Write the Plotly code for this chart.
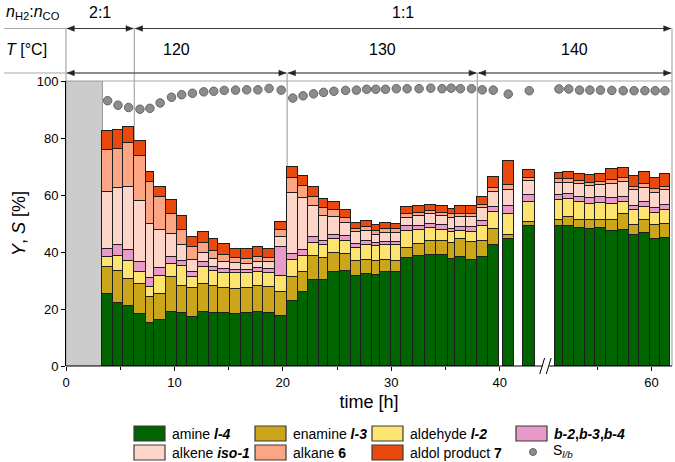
import plotly.graph_objects as go

FONT = "Liberation Sans, Arial, sans-serif"

# ---------------- data ----------------
# sampling interval of each bar [h] (real time)
t_start = [3.36, 4.32, 5.27, 6.28, 7.36, 8.12, 9.25, 10.21, 11.13, 12.20, 13.21, 14.04, 15.15, 16.13, 17.21, 18.19, 19.27,
           20.43, 21.41, 22.33, 23.34, 24.17, 25.25, 26.33, 27.25, 28.22, 28.93, 30.01, 30.93, 32.00, 33.14, 34.15, 35.22, 35.84, 36.92,
           37.89, 38.90, 40.29, 42.19,
           51.10, 51.85, 52.90, 53.85, 54.80, 55.80, 56.90, 57.90, 58.90, 59.90, 60.80]
t_end = [4.32, 5.27, 6.28, 7.36, 8.12, 9.25, 10.21, 11.13, 12.20, 13.21, 14.04, 15.15, 16.13, 17.21, 18.19, 19.27, 20.43,
         21.41, 22.33, 23.34, 24.17, 25.25, 26.33, 27.25, 28.22, 28.93, 30.01, 30.93, 32.00, 33.14, 34.15, 35.22, 35.84, 36.92, 37.89,
         38.90, 39.92, 41.30, 43.27,
         51.85, 52.90, 53.85, 54.80, 55.80, 56.90, 57.90, 58.90, 59.90, 60.80, 61.70]

amine_l4 = [25.4, 22.1, 21.1, 18.2, 15.0, 16.2, 18.9, 18.5, 17.1, 18.9, 18.5, 18.5, 18.3, 18.5, 18.9, 18.5, 17.6,
            22.8, 25.8, 30.3, 30.3, 32.9, 33.2, 31.5, 32.3, 31.8, 32.9, 32.9, 37.8, 38.5, 39.1, 38.8, 37.6, 38.3, 37.3,
            38.1, 42.4, 44.6, 49.3,
            49.3, 49.3, 48.5, 47.9, 48.5, 47.3, 47.7, 45.8, 46.5, 44.6, 45.0]
enamine_l3 = [9.2, 11.1, 9.4, 10.7, 9.2, 9.0, 12.2, 9.7, 10.2, 9.7, 9.4, 8.8, 8.7, 8.7, 9.2, 9.2, 8.5,
              8.3, 7.1, 8.2, 7.6, 6.8, 6.2, 5.2, 5.0, 4.9, 4.4, 3.8, 3.6, 4.2, 4.9, 5.2, 5.4, 6.1, 6.1,
              5.9, 5.5, 1.2, 1.2,
              2.1, 3.0, 2.9, 3.5, 2.7, 4.1, 5.5, 3.8, 4.7, 4.8, 5.0]
aldehyde_l2 = [3.7, 5.3, 6.5, 4.1, 3.6, 6.3, 4.8, 6.8, 3.9, 6.1, 5.4, 5.3, 5.6, 5.4, 4.8, 4.9, 5.6,
               6.0, 5.8, 4.7, 4.4, 4.7, 4.6, 4.7, 5.1, 5.3, 5.0, 5.6, 5.9, 5.0, 4.5, 3.7, 4.1, 2.9, 3.7,
               5.1, 6.1, 7.7, 7.2,
               6.8, 6.2, 6.1, 5.6, 6.1, 5.6, 4.4, 5.0, 4.6, 4.4, 4.9]
branched_b = [2.8, 3.9, 3.8, 3.5, 3.0, 2.8, 2.4, 1.7, 1.8, 1.7, 1.4, 1.4, 1.1, 1.0, 1.4, 1.6, 10.1,
              2.3, 2.1, 1.9, 1.5, 1.6, 1.5, 1.4, 1.4, 1.2, 1.1, 1.1, 1.8, 1.4, 1.5, 1.6, 1.1, 1.4, 1.6,
              1.7, 1.8, 2.8, 2.3,
              1.8, 1.7, 1.9, 2.0, 2.1, 2.0, 1.8, 1.5, 1.7, 1.7, 1.7]
alkene_iso1 = [20.1, 20.2, 22.0, 21.4, 19.0, 13.5, 7.9, 5.7, 4.3, 3.3, 2.9, 2.6, 2.3, 2.2, 2.3, 2.2, 3.3,
               21.4, 18.0, 11.0, 8.8, 6.2, 4.7, 4.1, 3.5, 2.9, 3.3, 3.3, 2.9, 3.5, 3.2, 3.3, 3.8, 3.6, 3.5,
               4.5, 5.4, 5.4, 5.0,
               4.3, 4.1, 4.3, 4.1, 4.1, 5.0, 5.2, 5.6, 5.1, 5.3, 5.0]
alkane_6 = [14.7, 13.7, 15.3, 15.9, 14.9, 11.5, 7.1, 5.4, 4.4, 3.3, 2.8, 2.4, 1.9, 1.9, 1.8, 1.6, 2.6,
            5.2, 4.3, 3.3, 2.7, 2.4, 1.9, 1.2, 1.4, 1.1, 1.2, 1.2, 1.2, 1.2, 1.3, 1.2, 1.2, 1.2, 1.3,
            1.2, 1.4, 1.8, 1.1,
            1.2, 1.4, 1.2, 1.2, 1.2, 1.1, 1.2, 1.2, 1.1, 1.4, 1.3]
aldol_7 = [6.6, 6.4, 5.6, 5.2, 3.5, 3.5, 4.9, 4.7, 3.6, 3.9, 4.0, 3.7, 3.3, 3.3, 3.3, 3.2, 2.9,
           3.8, 3.6, 3.5, 3.4, 3.1, 2.8, 2.1, 2.2, 2.1, 2.3, 2.1, 2.6, 2.2, 2.1, 2.3, 2.0, 2.5, 2.5,
           2.9, 3.7, 8.4, 2.7,
           2.3, 2.5, 2.6, 2.7, 2.6, 3.9, 3.8, 3.8, 4.4, 3.9, 4.6]
S_lb = [93.1, 91.5, 90.7, 90.1, 90.4, 92.3, 94.3, 95.2, 95.7, 96.2, 96.4, 96.7, 96.8, 96.9, 96.9, 97.4, 96.8,
        94.0, 94.8, 95.5, 96.0, 96.4, 96.7, 96.8, 97.1, 97.1, 97.1, 97.3, 97.3, 97.3, 97.5, 97.3, 97.5, 97.3, 97.3,
        96.9, 96.8, 95.4, 96.6,
        97.2, 97.2, 96.8, 96.8, 96.8, 96.7, 96.6, 96.6, 96.6, 96.6, 96.6]

series_values = [amine_l4, enamine_l3, aldehyde_l2, branched_b, alkene_iso1, alkane_6, aldol_7]
series_names = ["amine <b><i>l-4</i></b>", "enamine <b><i>l-3</i></b>", "aldehyde <b><i>l-2</i></b>",
                "<b><i>b-2</i>,<i>b-3</i>,<i>b-4</i></b>", "alkene <b><i>iso-1</i></b>", "alkane <b>6</b>",
                "aldol product <b>7</b>"]
dot_name = "S<sub><i>l/b</i></sub>"
colors = ["#006400", "#cba51a", "#fde470", "#e89bcb", "#fed6c9", "#fba585", "#e9490d"]

# process conditions
ratio_bounds = [0.0, 6.3, 61.9]
ratio_labels = ["2:1", "1:1"]
temp_bounds = [0.0, 20.4, 37.95, 61.9]
temp_labels = ["120", "130", "140"]

x_major = [0, 10, 20, 30, 40, 60]
x_minor = [5, 15, 25, 35, 55]
y_ticks = [0, 20, 40, 60, 80, 100]

# ---------------- axis break ----------------
BREAK_AT = 44.3     # real time where the axis is cut
BREAK_GAP = 6.0     # hours removed by the cut


def disp(t):
    return t if t <= BREAK_AT else t - BREAK_GAP


XMAX = disp(61.9)
centers = [disp((a + b) / 2) for a, b in zip(t_start, t_end)]
widths = [b - a for a, b in zip(t_start, t_end)]

# pixel helpers for decorations outside the plotting area
L, R, T, B = 66, 3, 81, 96
W, H = 675, 462
PW, PH = W - L - R, H - T - B


def pxx(px):
    return (px - L) / PW


def pxy(py):
    return (H - B - py) / PH


fig = go.Figure()
for vals, name, col in zip(series_values, series_names, colors):
    fig.add_trace(go.Bar(x=centers, y=vals, width=widths, name=name, showlegend=False,
                         marker=dict(color=col, line=dict(color="#1e1e1e", width=1.3))))
fig.add_trace(go.Scatter(x=centers, y=S_lb, mode="markers", name="S_l/b", showlegend=False,
                         marker=dict(size=8.5, color="#8c8c8c", line=dict(color="#666666", width=1))))

shapes = []
GREY = "#a8a8a8"
ARROW = "#222222"
# grey start-up region
shapes.append(dict(type="rect", xref="x", yref="y", x0=0, x1=disp(t_start[0]), y0=0, y1=100,
                   fillcolor="#cccccc", line=dict(color="#9a9a9a", width=1), layer="below"))
# frame top & right
shapes.append(dict(type="line", xref="paper", yref="paper", x0=0, x1=1, y0=1, y1=1,
                   line=dict(color=GREY, width=1.2)))
y_row1 = pxy(28.5)
y_row2 = pxy(73)
shapes.append(dict(type="line", xref="paper", yref="paper", x0=1, x1=1, y0=0, y1=y_row1,
                   line=dict(color=GREY, width=1.2)))
shapes.append(dict(type="line", xref="paper", yref="paper", x0=0, x1=0, y0=1, y1=y_row1,
                   line=dict(color=GREY, width=1.2)))
# header horizontal lines
for yy in (y_row1, y_row2):
    shapes.append(dict(type="line", xref="paper", yref="paper", x0=pxx(4), x1=1, y0=yy, y1=yy,
                       line=dict(color=GREY, width=1.2)))
# condition change lines
shapes.append(dict(type="line", xref="x", yref="paper", x0=disp(ratio_bounds[1]), x1=disp(ratio_bounds[1]),
                   y0=0, y1=y_row1, line=dict(color=GREY, width=1.2), layer="below"))
for tb in temp_bounds[1:-1]:
    shapes.append(dict(type="line", xref="x", yref="paper", x0=disp(tb), x1=disp(tb),
                       y0=0, y1=y_row2, line=dict(color=GREY, width=1.2), layer="below"))
# x axis line with break
shapes.append(dict(type="line", xref="x", yref="paper", x0=0, x1=BREAK_AT - 0.32, y0=0, y1=0,
                   line=dict(color="black", width=1)))
shapes.append(dict(type="line", xref="x", yref="paper", x0=BREAK_AT + 0.28, x1=XMAX, y0=0, y1=0,
                   line=dict(color="black", width=1)))
for dx in (-0.6, -0.0):
    shapes.append(dict(type="line", xref="x", yref="paper", x0=BREAK_AT + dx, x1=BREAK_AT + dx + 0.45,
                       y0=pxy(374), y1=pxy(358), line=dict(color="black", width=1)))

annotations = []
hdr_font = dict(family=FONT, size=16, color="black")
annotations.append(dict(text="<i>n</i><sub>H2</sub>:<i>n</i><sub>CO</sub>", xref="paper", yref="paper",
                        x=pxx(4), y=pxy(13), xanchor="left", yanchor="middle", showarrow=False, font=hdr_font))
annotations.append(dict(text="<i>T</i> [°C]", xref="paper", yref="paper",
                        x=pxx(4), y=pxy(49), xanchor="left", yanchor="middle", showarrow=False, font=hdr_font))


def arrow_head(xa, yy, direction):
    # small filled triangle, size in pixels, anchored at the arrow tip
    d = direction
    shapes.append(dict(type="path", xref="x", yref="paper", xsizemode="pixel", ysizemode="pixel",
                       xanchor=xa, yanchor=yy, path=f"M0,0 L{-7 * d},2.8 L{-7 * d},-2.8 Z",
                       fillcolor=ARROW, line=dict(color=ARROW, width=0.5)))


def row(bounds, labels, ytxt, yline):
    for i, lab in enumerate(labels):
        a, b = disp(bounds[i]), min(disp(bounds[i + 1]), XMAX)
        annotations.append(dict(text=lab, xref="x", yref="paper", x=(a + b) / 2, y=ytxt,
                                xanchor="center", yanchor="middle", showarrow=False, font=hdr_font))
        gap = 0.12
        shapes.append(dict(type="line", xref="x", yref="paper", x0=a + gap, x1=b - gap, y0=yline, y1=yline,
                           line=dict(color=ARROW, width=0.8)))
        arrow_head(a + gap, yline, -1)
        arrow_head(b - gap, yline, 1)


row(ratio_bounds, ratio_labels, pxy(13), y_row1)
row(temp_bounds, temp_labels, pxy(49), y_row2)

# manual legend
col_px = [134, 255, 372, 516]
row_py = [426, 445]
leg_font = dict(family=FONT, size=14, color="black")
for i, (name, col) in enumerate(zip(series_names, colors)):
    r, c = divmod(i, 4)
    x0 = col_px[c]
    y0 = row_py[r]
    shapes.append(dict(type="rect", xref="paper", yref="paper", x0=pxx(x0), x1=pxx(x0 + 31),
                       y0=pxy(y0 + 15), y1=pxy(y0), fillcolor=col, line=dict(color="#3a3a3a", width=1.2)))
    annotations.append(dict(text=name, xref="paper", yref="paper", x=pxx(x0 + 36), y=pxy(y0 + 7.5),
                            xanchor="left", yanchor="middle", showarrow=False, font=leg_font))
# dot legend entry
shapes.append(dict(type="circle", xref="paper", yref="paper", x0=pxx(529.5), x1=pxx(536.5),
                   y0=pxy(455.5), y1=pxy(448.5), fillcolor="#8c8c8c", line=dict(color="#666666", width=1)))
annotations.append(dict(text=dot_name, xref="paper", yref="paper", x=pxx(551), y=pxy(451),
                        xanchor="left", yanchor="middle", showarrow=False, font=leg_font))

fig.update_layout(
    width=W, height=H, margin=dict(l=L, r=R, t=T, b=B),
    barmode="stack", bargap=0, plot_bgcolor="white", paper_bgcolor="white",
    font=dict(family=FONT, size=13, color="black"),
    shapes=shapes, annotations=annotations, showlegend=False,
    xaxis=dict(range=[0, XMAX], tickvals=[disp(v) for v in x_major], ticktext=[str(v) for v in x_major],
               ticks="outside", ticklen=4, tickcolor="black", showline=False, showgrid=False, zeroline=False,
               minor=dict(tickvals=[disp(v) for v in x_minor], ticks="outside", ticklen=3, tickcolor="black"),
               title=dict(text="time [h]", font=dict(family=FONT, size=18), standoff=6),
               tickfont=dict(family=FONT, size=13)),
    yaxis=dict(range=[0, 100], tickvals=y_ticks, ticks="outside", ticklen=4, tickcolor="black",
               showline=True, linecolor="black", linewidth=1, showgrid=False, zeroline=False,
               title=dict(text="<i>Y</i>, <i>S</i> [%]", font=dict(family=FONT, size=18), standoff=6),
               tickfont=dict(family=FONT, size=13)),
)

fig.write_html("out.html", config={"displayModeBar": False},
               post_script="document.body.style.margin='0';")
